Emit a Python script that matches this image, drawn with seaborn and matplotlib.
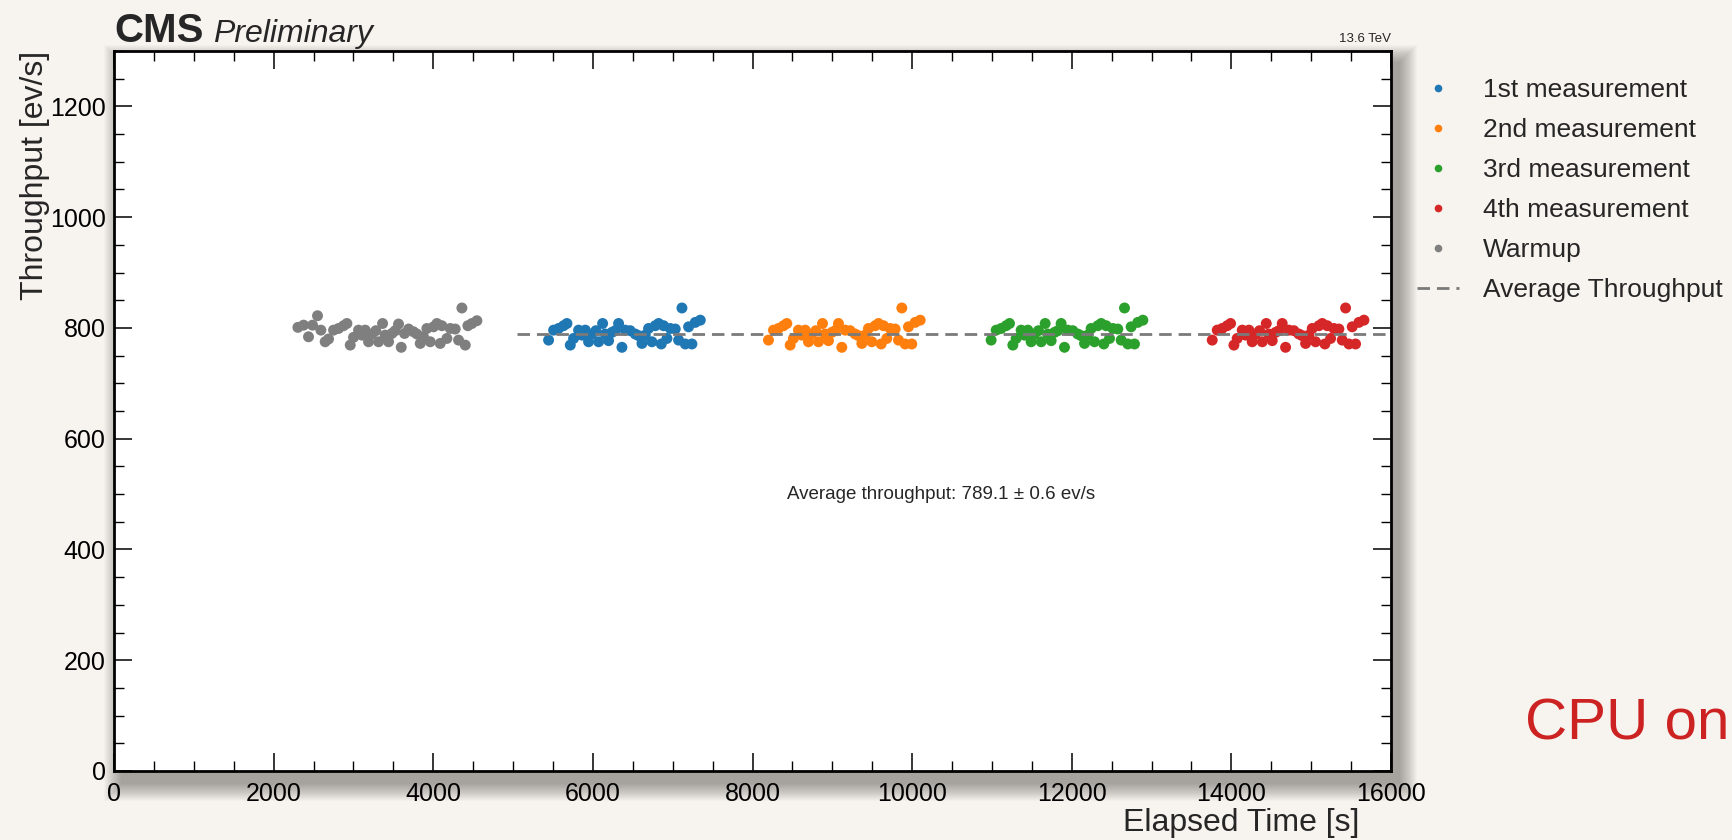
import numpy as np
import pandas as pd
import matplotlib
matplotlib.use("Agg")
import matplotlib.pyplot as plt
from matplotlib.lines import Line2D
from matplotlib.patches import Rectangle
from matplotlib.ticker import MultipleLocator, AutoMinorLocator
import seaborn as sns

# ---------------- data ----------------
series_labels = ["1st measurement", "2nd measurement", "3rd measurement",
                 "4th measurement", "Warmup"]
series_colors = ["#1f77b4", "#ff7f0e", "#2ca02c", "#d62728", "#7f7f7f"]

warmup_time = [2304, 2375, 2437, 2488, 2550, 2592, 2646, 2688, 2751, 2813,
               2876, 2918, 2960, 3001, 3064, 3106, 3147, 3189, 3231, 3281,
               3315, 3365, 3398, 3440, 3482, 3523, 3565, 3599, 3640, 3691,
               3753, 3795, 3837, 3878, 3920, 3962, 4004, 4046, 4087, 4108,
               4171, 4213, 4275, 4317, 4359, 4401, 4434, 4484, 4547]
warmup_rate = [801, 805, 784, 805, 822, 796, 775, 780, 796, 799,
               804, 808, 769, 783, 796, 787, 796, 775, 789, 795,
               775, 808, 787, 775, 790, 795, 807, 765, 790, 798,
               793, 789, 772, 784, 799, 775, 802, 808, 772, 804,
               781, 799, 798, 778, 836, 769, 804, 808, 813]

# seconds since the start of each measurement run
sample_offset = [0, 63, 125, 188, 230, 272, 313, 376, 418, 460,
                 501, 543, 593, 627, 677, 710, 752, 794, 835, 877,
                 919, 961, 1023, 1086, 1128, 1170, 1211, 1253, 1295, 1337,
                 1379, 1412, 1441, 1483, 1525, 1587, 1629, 1671, 1713, 1754,
                 1796, 1838, 1901]
run_start = [5445, 8200, 10990, 13760]

rate_1st = [778, 796, 799, 804, 808, 769, 781, 796, 787, 796,
            775, 789, 795, 775, 808, 789, 777, 792, 795, 808,
            765, 796, 795, 789, 786, 772, 787, 799, 775, 804,
            808, 771, 804, 781, 799, 798, 778, 836, 771, 802,
            771, 810, 814]
rate_2nd = [778, 796, 799, 804, 808, 769, 781, 796, 787, 796,
            775, 789, 795, 775, 808, 789, 777, 792, 795, 808,
            765, 796, 795, 789, 786, 772, 787, 799, 775, 804,
            808, 771, 804, 781, 799, 798, 778, 836, 771, 802,
            771, 810, 814]
rate_3rd = [778, 796, 799, 804, 808, 769, 781, 796, 787, 796,
            775, 789, 795, 775, 808, 789, 777, 792, 795, 808,
            765, 796, 795, 789, 786, 772, 787, 799, 775, 804,
            808, 771, 804, 781, 799, 798, 778, 836, 771, 802,
            771, 810, 814]
rate_4th = [778, 796, 799, 804, 808, 769, 781, 796, 787, 796,
            775, 789, 795, 775, 808, 789, 777, 792, 795, 808,
            765, 796, 795, 789, 786, 772, 787, 799, 775, 804,
            808, 771, 804, 781, 799, 798, 778, 836, 771, 802,
            771, 810, 814]

avg_throughput = 789.1
avg_uncertainty = 0.6
avg_line_start = 5050
x_max = 16000
y_max = 1300

# ---------------- tidy table ----------------
frames = [pd.DataFrame({"time": warmup_time, "throughput": warmup_rate,
                        "series": "Warmup"})]
for label, start, rates in zip(series_labels[:4], run_start,
                               [rate_1st, rate_2nd, rate_3rd, rate_4th]):
    frames.append(pd.DataFrame({"time": [start + o for o in sample_offset],
                                "throughput": rates, "series": label}))
df = pd.concat(frames, ignore_index=True)

# ---------------- style ----------------
sns.set_theme(style="ticks")
plt.rcParams["font.family"] = ["Liberation Sans", "DejaVu Sans"]

W, H = 1732, 840
fig = plt.figure(figsize=(W / 100, H / 100), dpi=100)
fig.patch.set_facecolor("#f7f3ee")

ax_l, ax_r, ax_t, ax_b = 114, 1391, 51, 771
ax = fig.add_axes([ax_l / W, 1 - ax_b / H, (ax_r - ax_l) / W, (ax_b - ax_t) / H])
ax.set_facecolor("white")

# soft drop shadow behind the plotting frame, cast down and to the right
n_layers = 18
for i in range(n_layers):
    pad = n_layers - i
    rect = Rectangle(((ax_l + 8 - pad) / W, 1 - (ax_b + 12 + pad) / H),
                     (ax_r - ax_l + 2 * pad) / W, (ax_b - ax_t + 2 * pad) / H,
                     transform=fig.transFigure, facecolor="black",
                     edgecolor="none", alpha=0.018, zorder=-10)
    fig.patches.append(rect)

palette = dict(zip(series_labels, series_colors))
sns.scatterplot(data=df, x="time", y="throughput", hue="series",
                hue_order=series_labels, palette=palette, s=62,
                linewidth=0, legend=False, ax=ax, zorder=2)

avg_style = dict(color="#7a7a7a", lw=2.0, ls=(0, (4.5, 2.5)))
ax.plot([avg_line_start, x_max], [avg_throughput, avg_throughput],
        zorder=3, **avg_style)

ax.set_xlim(0, x_max)
ax.set_ylim(0, y_max)
ax.xaxis.set_major_locator(MultipleLocator(2000))
ax.xaxis.set_minor_locator(AutoMinorLocator(4))
ax.yaxis.set_major_locator(MultipleLocator(200))
ax.yaxis.set_minor_locator(AutoMinorLocator(4))
ax.tick_params(which="both", direction="in", top=True, right=True,
               color="black", labelsize=18, labelcolor="black")
ax.tick_params(which="major", length=13, width=1.1)
ax.tick_params(which="minor", length=7, width=1.0)
ax.tick_params(axis="x", which="major", pad=8)
ax.tick_params(axis="y", which="major", pad=6)
for sp in ax.spines.values():
    sp.set_linewidth(2.0)
    sp.set_color("black")

ax.set_xlabel("Elapsed Time [s]", fontsize=23, loc="right")
ax.xaxis.set_label_coords(0.975, -0.052)
ax.set_ylabel("Throughput [ev/s]", fontsize=23, loc="top")
ax.yaxis.set_label_coords(-0.05, 1.0)

# experiment labels
ax.text(0.0, 1.0125, "CMS", transform=ax.transAxes, fontsize=29,
        fontweight="bold", ha="left", va="baseline")
ax.text(0.0777, 1.0125, "Preliminary", transform=ax.transAxes, fontsize=23,
        fontstyle="italic", ha="left", va="baseline")
ax.text(1.0, 1.0125, "13.6 TeV", transform=ax.transAxes, fontsize=9.5,
        ha="right", va="baseline")

ax.text(10366, 500,
        f"Average throughput: {avg_throughput:.1f} \u00b1 {avg_uncertainty:.1f} ev/s",
        fontsize=13.5, ha="center", va="center")

# legend outside the frame
handles = [Line2D([], [], ls="none", marker="o", markersize=5.5,
                  markerfacecolor=c, markeredgecolor="none")
           for c in series_colors]
handles.append(Line2D([], [], **avg_style))
labels = series_labels + ["Average Throughput"]
fig.legend(handles, labels, loc="upper left",
           bbox_to_anchor=(1417 / W, 1 - 78 / H), frameon=False,
           fontsize=19, borderaxespad=0, borderpad=0, handlelength=1.6,
           handletextpad=0.9, labelspacing=0.61)

fig.text(1525 / W, 1 - 740 / H, "CPU on", color="#cc2222", fontsize=42,
         ha="left", va="baseline")

fig.savefig("out.png", dpi=100, facecolor=fig.get_facecolor())
